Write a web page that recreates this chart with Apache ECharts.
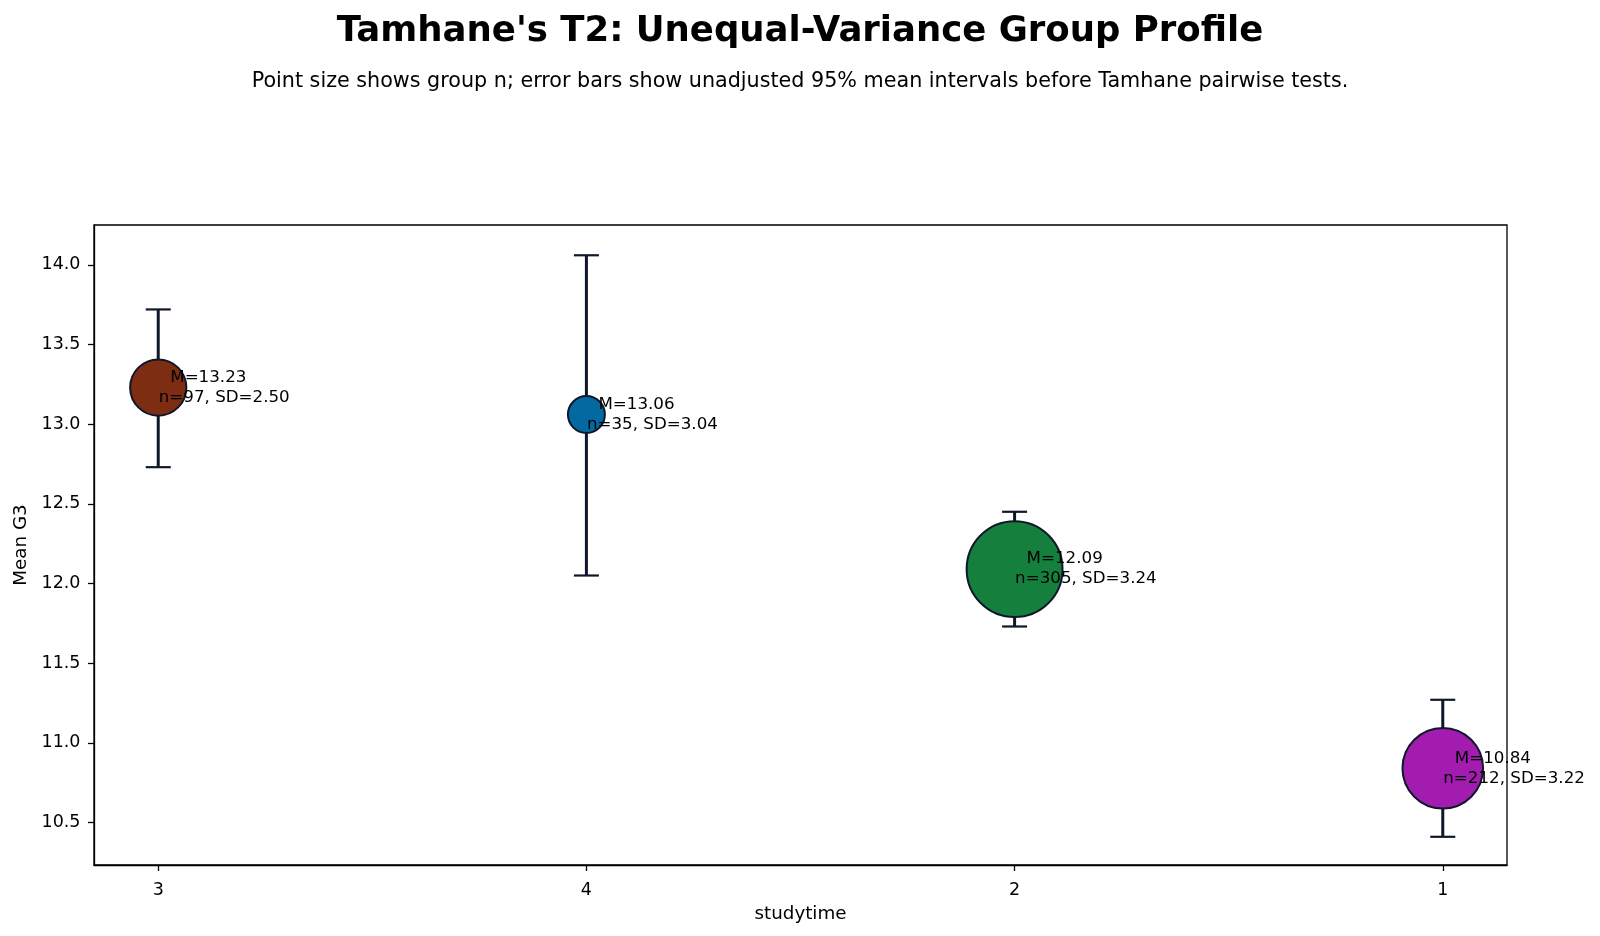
<!DOCTYPE html>
<html>
<head>
<meta charset="utf-8">
<title>Tamhane's T2 group profile</title>
<script src="https://cdn.jsdelivr.net/npm/echarts@6/dist/echarts.min.js"></script>
<style>
  html, body { margin: 0; padding: 0; background: #fff; }
  #chart { width: 1600px; height: 936px; }
</style>
</head>
<body>
<div id="chart"></div>
<script>
// group data, in plotted order (left to right)
var categories = ['3', '4', '2', '1'];
var means = [13.23, 13.06, 12.09, 10.84];
var ns = [97, 35, 305, 212];
var sds = [2.50, 3.04, 3.24, 3.22];
var ciLow = [12.73, 12.05, 11.73, 10.41];
var ciHigh = [13.72, 14.06, 12.45, 11.27];
var yTicks = [10.5, 11.0, 11.5, 12.0, 12.5, 13.0, 13.5, 14.0];
var xTicks = [0, 1, 2, 3];

var colors = ['#7c2d12', '#0369a1', '#15803d', '#a21caf'];
var edge = '#0f172a';
var FONT = 'DejaVu Sans';
var labelSize = 16.7;
var tickSize = 17.5;
var nameSize = 18.3;

var chart = echarts.init(document.getElementById('chart'));

var points = [];
for (var i = 0; i < categories.length; i++) {
    points.push([i, means[i], ns[i], sds[i], ciLow[i], ciHigh[i]]);
}

// marker diameter grows with group n
function markerSize(n) { return Math.sqrt(352 + 29 * n); }

var option = {
    animation: false,
    backgroundColor: '#fff',
    title: [
        {
            text: "Tamhane's T2: Unequal-Variance Group Profile",
            left: 'center', top: 12, padding: 0,
            textStyle: { fontFamily: FONT, fontSize: 35.5, fontWeight: 'bold', color: '#000', lineHeight: 40 }
        },
        {
            text: 'Point size shows group n; error bars show unadjusted 95% mean intervals before Tamhane pairwise tests.',
            left: 'center', top: 70, padding: 0,
            textStyle: { fontFamily: FONT, fontSize: 20.7, fontWeight: 'normal', color: '#000', lineHeight: 24 }
        }
    ],
    grid: {
        left: 94, right: 93, top: 225, bottom: 71,
        show: true, borderColor: '#000', borderWidth: 1.3, backgroundColor: 'transparent'
    },
    xAxis: {
        type: 'value',
        min: -0.15, max: 3.15,
        name: 'studytime',
        nameLocation: 'middle',
        nameGap: 40,
        nameTextStyle: { fontFamily: FONT, fontSize: nameSize, color: '#000' },
        axisLine: { show: true, onZero: false, lineStyle: { color: '#000', width: 1.3 } },
        axisTick: { show: true, inside: false, length: 6, customValues: xTicks, lineStyle: { color: '#000', width: 1.3 } },
        axisLabel: {
            customValues: xTicks,
            margin: 16.5,
            fontFamily: FONT, fontSize: tickSize, color: '#000',
            formatter: function (v) { return categories[Math.round(v)]; }
        },
        splitLine: { show: false }
    },
    yAxis: {
        type: 'value',
        min: 10.233, max: 14.25,
        name: 'Mean G3',
        nameLocation: 'middle',
        nameGap: 63,
        nameTextStyle: { fontFamily: FONT, fontSize: nameSize, color: '#000' },
        axisLine: { show: true, onZero: false, lineStyle: { color: '#000', width: 1.3 } },
        axisTick: { show: true, inside: false, length: 6, customValues: yTicks, lineStyle: { color: '#000', width: 1.3 } },
        axisLabel: {
            customValues: yTicks,
            margin: 13.5,
            fontFamily: FONT, fontSize: tickSize, color: '#000',
            formatter: function (v) { return v.toFixed(1); }
        },
        splitLine: { show: false }
    },
    series: [
        {
            // error bars (95% CI)
            type: 'custom',
            z: 1,
            data: points,
            renderItem: function (params, api) {
                var x = api.coord([api.value(0), api.value(1)])[0];
                var lo = api.coord([api.value(0), api.value(4)])[1];
                var hi = api.coord([api.value(0), api.value(5)])[1];
                var cap = 12.5;
                return {
                    type: 'group',
                    children: [
                        { type: 'line', shape: { x1: x, y1: lo, x2: x, y2: hi }, style: { stroke: edge, lineWidth: 3 } },
                        { type: 'line', shape: { x1: x - cap, y1: lo, x2: x + cap, y2: lo }, style: { stroke: edge, lineWidth: 2.2 } },
                        { type: 'line', shape: { x1: x - cap, y1: hi, x2: x + cap, y2: hi }, style: { stroke: edge, lineWidth: 2.2 } }
                    ]
                };
            }
        },
        {
            type: 'scatter',
            z: 2,
            data: points,
            symbol: 'circle',
            symbolSize: function (v) { return markerSize(v[2]); },
            itemStyle: {
                color: function (p) { return colors[p.dataIndex]; },
                borderColor: edge,
                borderWidth: 2,
                opacity: 1
            }
        },
        {
            // annotations: mean on first line, n and SD below
            type: 'custom',
            z: 3,
            data: points,
            renderItem: function (params, api) {
                var pt = api.coord([api.value(0), api.value(1)]);
                var i = params.dataIndex;
                var x0 = pt[0] + 0.5;
                var st = { fontFamily: FONT, fontSize: labelSize, fill: '#000', align: 'left', verticalAlign: 'middle' };
                return {
                    type: 'group',
                    children: [
                        { type: 'text', x: x0 + 11.5, y: pt[1] - 10,
                          style: Object.assign({ text: 'M=' + means[i].toFixed(2) }, st) },
                        { type: 'text', x: x0, y: pt[1] + 10,
                          style: Object.assign({ text: 'n=' + ns[i] + ', SD=' + sds[i].toFixed(2) }, st) }
                    ]
                };
            }
        }
    ]
};

chart.setOption(option);
</script>
</body>
</html>
